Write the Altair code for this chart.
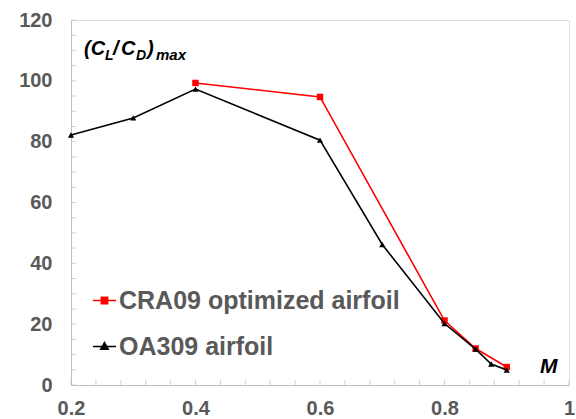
import altair as alt
import pandas as pd

# Maximum lift-to-drag ratio versus Mach number
oa_mach = [0.2, 0.3, 0.4, 0.6, 0.7, 0.8, 0.85, 0.875, 0.9]
oa_cld = [82.2, 87.8, 97.3, 80.5, 46.2, 20.2, 11.8, 6.9, 4.9]
cra_mach = [0.4, 0.6, 0.8, 0.85, 0.9]
cra_cld = [99.3, 94.7, 21.2, 12.0, 5.9]

series_names = ["CRA09 optimized airfoil", "OA309 airfoil"]
series_colors = ["#FF0000", "#000000"]
# legend glyphs: a short line with the series marker on it
legend_glyphs = [
    "M-1,0H1M-0.27,-0.27H0.27V0.27H-0.27Z",
    "M-1,0H1M0,-0.34L0.32,0.24L-0.32,0.24Z",
]

x_major = [0.2, 0.4, 0.6, 0.8, 1.0]
y_major = [0, 20, 40, 60, 80, 100, 120]
x_minor = [round(0.2 + 0.04 * i, 2) for i in range(21)]
y_minor = [5 * i for i in range(25)]

FONT = "Liberation Sans"
LABEL_GREY = "#595959"
AXIS_GREY = "#BFBFBF"

cra = pd.DataFrame({"M": cra_mach, "CLCD": cra_cld, "series": series_names[0]})
oa = pd.DataFrame({"M": oa_mach, "CLCD": oa_cld, "series": series_names[1]})
df = pd.concat([cra, oa])

xs = alt.Scale(domain=[0.2, 1.0], nice=False, zero=False)
ys = alt.Scale(domain=[0, 120], nice=False)
color_scale = alt.Scale(domain=series_names, range=series_colors)
glyph_scale = alt.Scale(domain=series_names, range=legend_glyphs)

x_axis = alt.Axis(
    values=x_major, format="~g", tickSize=0, grid=False, title=None,
    labelFont=FONT, labelFontSize=20, labelFontWeight="bold",
    labelColor=LABEL_GREY, labelPadding=13, domainColor=AXIS_GREY,
    domainWidth=1, labelFlush=False,
)
y_axis = alt.Axis(
    values=y_major, tickSize=0, grid=False, title=None,
    labelFont=FONT, labelFontSize=20, labelFontWeight="bold",
    labelColor=LABEL_GREY, labelPadding=19, domainColor=AXIS_GREY,
    domainWidth=1,
)

series_legend = alt.Legend(
    title=None, orient="none", legendX=21, legendY=268,
    labelFont=FONT, labelFontSize=25, labelFontWeight="bold",
    labelColor=LABEL_GREY, labelOffset=2, rowPadding=20, labelLimit=500,
    symbolSize=530, symbolStrokeWidth=1.6, symbolOpacity=1, padding=0,
)

# Invisible layer that carries the legend
legend_layer = alt.Chart(df).mark_point(filled=True, opacity=0, size=1).encode(
    x=alt.X("M:Q", scale=xs, axis=x_axis),
    y=alt.Y("CLCD:Q", scale=ys, axis=y_axis),
    fill=alt.Fill("series:N", scale=color_scale, legend=series_legend),
    stroke=alt.Stroke("series:N", scale=color_scale, legend=series_legend),
    shape=alt.Shape("series:N", scale=glyph_scale, legend=series_legend),
)

cra_line = alt.Chart(cra).mark_line(strokeWidth=1.6, color="#FF0000").encode(
    x=alt.X("M:Q", scale=xs), y=alt.Y("CLCD:Q", scale=ys))
cra_points = alt.Chart(cra).mark_point(
    shape="square", filled=True, size=42, opacity=1, color="#FF0000"
).encode(x=alt.X("M:Q", scale=xs), y=alt.Y("CLCD:Q", scale=ys))

oa_line = alt.Chart(oa).mark_line(strokeWidth=1.6, color="#000000").encode(
    x=alt.X("M:Q", scale=xs), y=alt.Y("CLCD:Q", scale=ys))
oa_points = alt.Chart(oa).mark_point(
    shape="triangle-up", filled=True, size=38, opacity=1, color="#000000"
).encode(x=alt.X("M:Q", scale=xs), y=alt.Y("CLCD:Q", scale=ys))

# Inward-pointing tick marks along both axes
x_ticks = alt.Chart(pd.DataFrame({"t": x_minor, "y0": 0})).mark_tick(
    orient="vertical", size=5, thickness=1, color=AXIS_GREY, yOffset=-2.5
).encode(x=alt.X("t:Q", scale=xs), y=alt.Y("y0:Q", scale=ys))

y_ticks = alt.Chart(pd.DataFrame({"t": y_minor, "x0": 0.2})).mark_tick(
    orient="horizontal", size=5, thickness=1, color=AXIS_GREY, xOffset=2.5
).encode(y=alt.Y("t:Q", scale=ys), x=alt.X("x0:Q", scale=xs))

# Axis title pieces: (C_L/C_D)_max and M
title_parts = pd.DataFrame({
    "txt": ["(C", "L", "/", "C", "D", ")", "max"],
    "px": [13, 34, 42, 50, 65, 76, 85],
    "py": [35, 40, 35, 35, 40, 35, 40],
    "fs": [20, 14, 20, 20, 14, 20, 15],
})
title_layer = alt.Chart(title_parts).mark_text(
    align="left", baseline="alphabetic", font=FONT, fontWeight="bold",
    fontStyle="italic", color="#000000",
).encode(
    text="txt:N",
    x=alt.X("px:Q", scale=None),
    y=alt.Y("py:Q", scale=None),
    size=alt.Size("fs:Q", scale=None, legend=None),
)

m_label = alt.Chart(pd.DataFrame({"txt": ["M"]})).mark_text(
    align="left", baseline="alphabetic", font=FONT, fontWeight="bold",
    fontStyle="italic", fontSize=21, color="#000000",
).encode(text="txt:N", x=alt.value(469), y=alt.value(353))

chart = alt.layer(
    legend_layer, x_ticks, y_ticks, cra_line, cra_points, oa_line, oa_points,
    title_layer, m_label
).properties(
    width=498, height=365,
    padding={"left": 71, "top": 20, "right": 7, "bottom": 34},
    autosize=alt.AutoSizeParams(type="none"),
).configure_view(stroke=None).configure(background="white")

chart.save("out.html", embed_options={"renderer": "svg", "actions": False})
